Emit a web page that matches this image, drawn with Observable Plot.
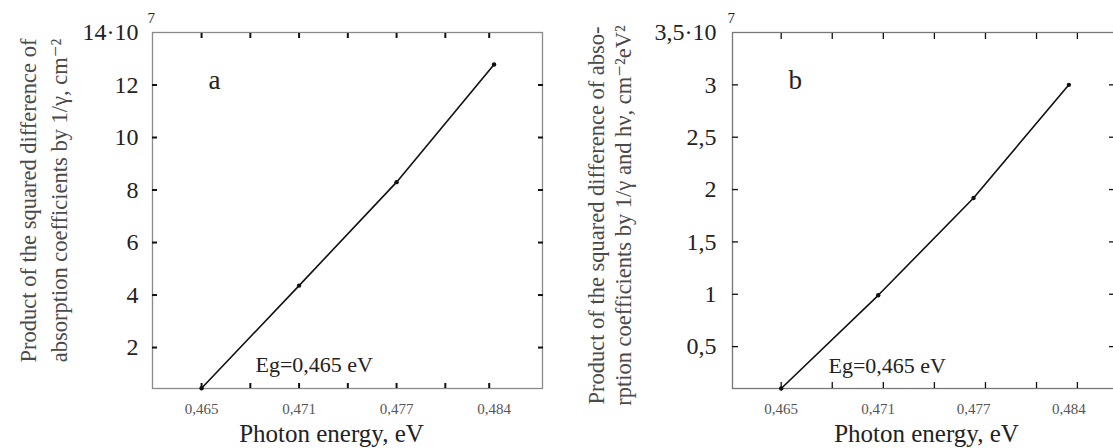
<!DOCTYPE html>
<html>
<head>
<meta charset="utf-8">
<script src="https://cdn.jsdelivr.net/npm/d3@7"></script>
<script src="https://cdn.jsdelivr.net/npm/@observablehq/plot@0.6"></script>
<style>
  html, body { margin: 0; padding: 0; background: #fff; overflow: hidden; }
  #wrap { display: flex; width: 1113px; height: 448px; overflow: hidden; background: #fff; }
  #wrap svg { flex: none; display: block; }
</style>
</head>
<body>
<div id="wrap"></div>
<script>
// ---- Panel a data ----
const energyA = [0.465, 0.4710, 0.4770, 0.4830];          // photon energy, eV
const productA = [0.45, 4.36, 8.30, 12.78];               // ×10^7 cm^-2
const xTickLabelsA = ["0,465", "0,471", "0,477", "0,484"];
const xMinorTicksA = [0.465, 0.468, 0.471, 0.474, 0.477, 0.480, 0.4827];
const yTicksA = [2, 4, 6, 8, 10, 12, 14];
const yTickLabelsA = ["2", "4", "6", "8", "10", "12", "14·10"];

// ---- Panel b data ----
const energyB = [0.465, 0.4707, 0.4763, 0.4819];
const productB = [0.10, 0.99, 1.92, 3.00];                // ×10^7 cm^-2 eV^2
const xTickLabelsB = ["0,465", "0,471", "0,477", "0,484"];
const xMinorTicksB = [0.465, 0.468, 0.471, 0.474, 0.477, 0.480, 0.4824];
const yTicksB = [0.5, 1, 1.5, 2, 2.5, 3, 3.5];
const yTickLabelsB = ["0,5", "1", "1,5", "2", "2,5", "3", "3,5·10"];

const exponent = "7";
const xTitle = "Photon energy, eV";
const egText = "Eg=0,465 eV";
const yTitleA = "Product of the squared difference of\nabsorption coefficients by 1/γ, cm⁻²";
const yTitleB = "Product of the squared difference of abso-\nrption coefficients by 1/γ and hν, cm⁻²eV²";

const SERIF = "'Liberation Serif', 'Times New Roman', 'DejaVu Serif', serif";

function panel(c) {
  const pts = c.xs.map((x, i) => ({x, y: c.ys[i]}));
  const top = c.yTicks[c.yTicks.length - 1];
  const inner = c.yTicks.slice(0, -1);
  return Plot.plot({
    width: c.width, height: 448,
    marginLeft: c.marginLeft, marginRight: c.marginRight, marginTop: 32, marginBottom: 60,
    x: {domain: c.xDomain, axis: null},
    y: {domain: c.yDomain, axis: null},
    style: {fontFamily: SERIF, background: "white", color: "#222"},
    marks: [
      Plot.frame({stroke: c.frameColor, strokeWidth: 1.3}),
      Plot.axisX(c.xTicks, {anchor: "bottom", tickSize: -c.tickLen, fill: "none", stroke: "#111", strokeWidth: c.tickW, label: null}),
      Plot.axisX(c.xTicks, {anchor: "top", tickSize: -c.tickLen, fill: "none", stroke: "#111", strokeWidth: c.tickW, label: null}),
      Plot.axisY(inner, {anchor: "left", tickSize: -c.tickLen, fill: "none", stroke: "#111", strokeWidth: c.tickW, label: null}),
      Plot.axisY(inner, {anchor: "right", tickSize: -c.tickLen, fill: "none", stroke: "#111", strokeWidth: c.tickW, label: null}),
      Plot.line(pts, {x: "x", y: "y", stroke: "#111", strokeWidth: 1.6}),
      Plot.dot(pts, {x: "x", y: "y", r: 2.2, fill: "#111", stroke: null}),
      // y tick labels
      Plot.text(c.yTicks, {y: d => d, text: (d, i) => c.yTickLabels[i], frameAnchor: "left", textAnchor: "end", dx: c.yTickDx, fontSize: 24, fill: "#222"}),
      Plot.text([top], {y: d => d, text: () => exponent, frameAnchor: "left", textAnchor: "start", dx: -5, dy: -14, fontSize: 15, fill: "#222"}),
      // x tick labels at the measured points
      Plot.text(c.xs, {x: d => d, text: (d, i) => c.xTickLabels[i], frameAnchor: "bottom", dy: 25, lineAnchor: "bottom", fontSize: 15, fill: "#555"}),
      Plot.text([xTitle], {frameAnchor: "bottom", dx: c.xTitleDx, dy: 53, lineAnchor: "bottom", fontSize: 25, fill: "#222"}),
      Plot.text([c.letter], {frameAnchor: "top-left", dx: 56, dy: 56, lineAnchor: "bottom", textAnchor: "start", fontSize: 27, fill: "#222"}),
      Plot.text([egText], {frameAnchor: "bottom-left", dx: c.egDx, dy: c.egDy, lineAnchor: "bottom", textAnchor: "start", fontSize: 22, fill: "#222"}),
      Plot.text([c.yTitle], {frameAnchor: "left", rotate: -90, dx: c.yTitleDx, dy: c.yTitleDy, textAnchor: "middle", lineAnchor: "middle", lineHeight: c.lineHeight, fontSize: 22.5, fill: "#4a4a4a"})
    ]
  });
}

const wrap = document.getElementById("wrap");
wrap.append(panel({
  width: 560, marginLeft: 152, marginRight: 18,
  xDomain: [0.46198, 0.48598], yDomain: [0.44, 14],
  xs: energyA, ys: productA, xTicks: xMinorTicksA,
  yTicks: yTicksA, yTickLabels: yTickLabelsA, xTickLabels: xTickLabelsA,
  letter: "a", yTitle: yTitleA, yTitleDx: -111, yTitleDy: -10, lineHeight: 1.4,
  tickW: 2, tickLen: 5, frameColor: "#8a8a8a", yTickDx: -14, xTitleDx: -16,
  egDx: 103, egDy: -17
}));
wrap.append(panel({
  width: 556, marginLeft: 172, marginRight: 2,
  xDomain: [0.46214, 0.48458], yDomain: [0.10, 3.5],
  xs: energyB, ys: productB, xTicks: xMinorTicksB,
  yTicks: yTicksB, yTickLabels: yTickLabelsB, xTickLabels: xTickLabelsB,
  letter: "b", yTitle: yTitleB, yTitleDx: -124, yTitleDy: 5, lineHeight: 1.2,
  tickW: 1.3, tickLen: 6, frameColor: "#777", yTickDx: -16, xTitleDx: 3,
  egDx: 96, egDy: -16
}));
</script>
</body>
</html>
